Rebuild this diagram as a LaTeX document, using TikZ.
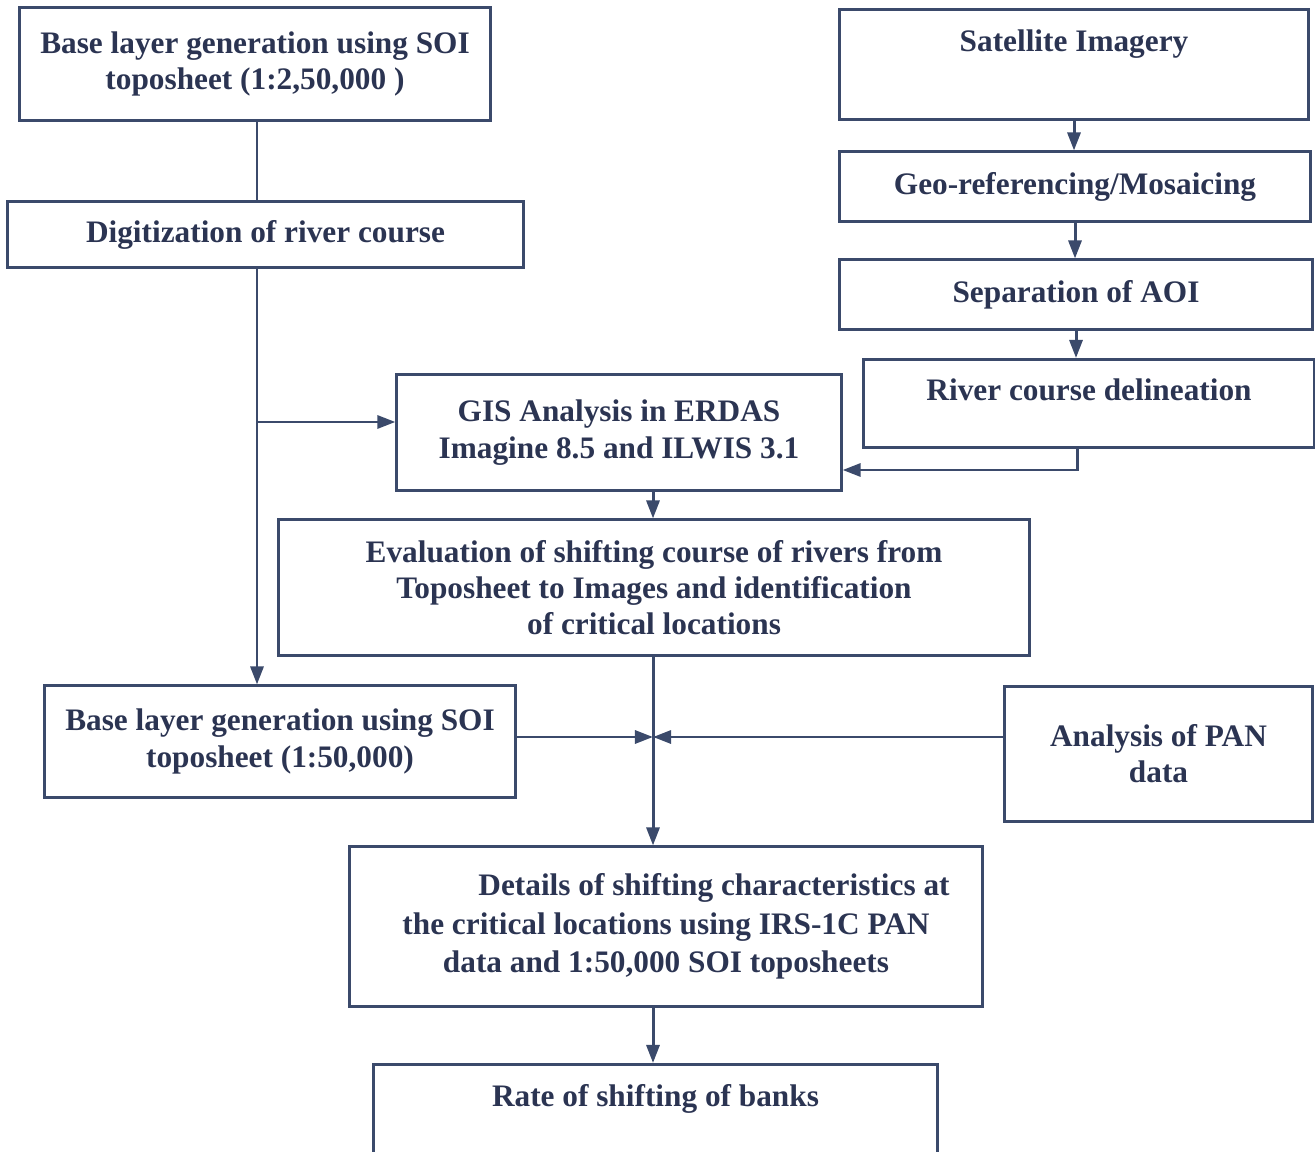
\documentclass[tikz,border=0pt]{standalone}
\usepackage{fontspec}
\setmainfont{Liberation Serif}[BoldFont={Liberation Serif Bold}]
\usetikzlibrary{arrows.meta}
\definecolor{inkline}{HTML}{3B4A6B}
\definecolor{inktext}{HTML}{2B3452}
\tikzset{
  stage/.style={draw=inkline, line width=0.85pt, text=inktext, align=center,
    inner sep=0pt, font=\fontsize{8.9}{10.3}\selectfont\bfseries},
  flow/.style={draw=inkline, line width=0.85pt,
    -{Triangle[length=0.18cm,width=0.13cm]}}
}
\begin{document}
\begin{tikzpicture}[x=0.01cm, y=-0.01cm]
      \useasboundingbox (0,0) rectangle (1315,1152);
      \clip (0,0) rectangle (1315,1152);
      \node[stage, minimum width=4.7cm, minimum height=1.12cm] (soi250) at (255,64)
        {Base layer generation using SOI\\toposheet (1:2,50,000 )};
      \node[stage, minimum width=5.15cm, minimum height=0.65cm] (digit) at (265.5,234.5)
        {Digitization of river course};
      \node[stage, minimum width=4.7cm, minimum height=1.11cm] (soi50) at (280,741.5)
        {Base layer generation using SOI\\toposheet (1:50,000)};
      \node[stage, anchor=north, minimum width=4.68cm, text height=0.42cm, text depth=0.68cm] (sat) at (1074,8)
        {Satellite Imagery};
      \node[stage, minimum width=4.7cm, minimum height=0.69cm] (georef) at (1075,186.5)
        {Geo-referencing/Mosaicing};
      \node[stage, minimum width=4.72cm, minimum height=0.69cm] (aoi) at (1076,294.5)
        {Separation of AOI};
      \node[stage, anchor=north, minimum width=4.5cm, text height=0.41cm, text depth=0.47cm] (delin) at (1089,358)
        {River course delineation};
      \node[stage, minimum width=4.44cm, minimum height=1.15cm] (gis) at (619,432.5)
        {GIS Analysis in ERDAS\\Imagine 8.5 and ILWIS 3.1};
      \node[stage, minimum width=7.5cm, minimum height=1.35cm] (evalu) at (654,587.5)
        {Evaluation of shifting course of rivers from\\Toposheet to Images and identification\\of critical locations};
      \node[stage, minimum width=3.07cm, minimum height=1.34cm] (pan) at (1158.5,754)
        {Analysis of PAN\\data};
      \node[stage, minimum width=6.32cm, minimum height=1.59cm, font=\fontsize{8.9}{11}\selectfont\bfseries] (detail) at (666,926.5)
        {\hspace*{0.96cm}Details of shifting characteristics at\\the critical locations using IRS-1C PAN\\data and 1:50,000 SOI toposheets};
      \node[stage, anchor=north, minimum width=5.63cm, text height=0.42cm, text depth=0.7cm] (rate) at (655.5,1063)
        {Rate of shifting of banks};
      \coordinate (split) at (257,422);
      \coordinate (delturn) at (1077,470);
      \coordinate (meet) at (653,737);
      \begin{scope}[flow]
        \draw[-] (soi250.south -| split) to (digit.north -| split);
        \draw[-] (digit.south -| split) to (split);
        \draw (split) to (soi50.north -| split);
        \draw (split) to (gis.west |- split);
        \draw (sat.south) to (sat.south |- georef.north);
        \draw (georef.south) to (georef.south |- aoi.north);
        \draw (aoi.south) to (aoi.south |- delin.north);
        \draw (delin.south -| delturn) -- (delturn) -- (gis.east |- delturn);
        \draw (gis.south -| meet) to (evalu.north -| meet);
        \draw[-] (evalu.south -| meet) to (meet);
        \draw (meet) to (detail.north -| meet);
        \draw (soi50.east |- meet) to (meet);
        \draw (pan.west |- meet) to (meet);
        \draw (detail.south -| meet) to (rate.north -| meet);
      \end{scope}
    \end{tikzpicture}
\end{document}
